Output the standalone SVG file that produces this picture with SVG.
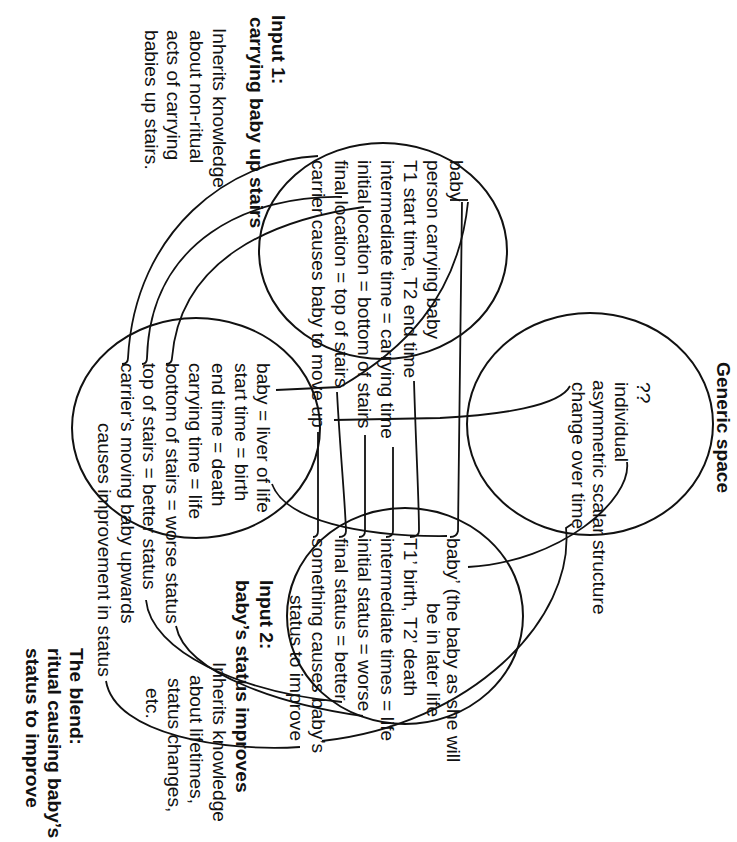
<svg xmlns="http://www.w3.org/2000/svg" width="737" height="842" viewBox="0 0 737 842">
<style>
text { font-family: "Liberation Sans", Arial, Helvetica, sans-serif; font-size: 19.2px; fill: #111; }
.b { font-weight: bold; }
.ring { fill: none; stroke: #111; stroke-width: 2; }
#connectors path { fill: none; stroke: #111; stroke-width: 1.8; }
</style>
<rect width="737" height="842" fill="#fff"/>

<g id="input1">
  <ellipse class="ring" cx="383" cy="251" rx="124" ry="108"/>
  <g transform="rotate(90)">
    <text class="b" x="15" y="-272">Input 1:</text>
    <text class="b" x="17" y="-250">carrying baby up stairs</text>
    <text x="28" y="-213">Inherits knowledge</text>
    <text x="30" y="-190">about non-ritual</text>
    <text x="30" y="-167">acts of carrying</text>
    <text x="30" y="-145">babies up stairs.</text>
    <text x="160" y="-450">baby</text>
    <text x="160" y="-427">person carrying baby</text>
    <text x="160" y="-404">T1 start time, T2 end time</text>
    <text x="160" y="-381">intermediate time = carrying time</text>
    <text x="160" y="-358">initial location = bottom of stairs</text>
    <text x="160" y="-335">final location = top of stairs</text>
    <text x="160" y="-312">carrier causes baby to move up</text>
  </g>
</g>

<g id="generic">
  <ellipse class="ring" cx="590" cy="424" rx="123" ry="111"/>
  <g transform="rotate(90)">
    <text class="b" x="362" y="-717">Generic space</text>
    <text x="382" y="-637">??</text>
    <text x="382" y="-615">individual</text>
    <text x="380" y="-593">asymmetric scalar structure</text>
    <text x="382" y="-572">change over time</text>
  </g>
</g>

<g id="blend">
  <ellipse class="ring" cx="196" cy="428" rx="124" ry="110"/>
  <g transform="rotate(90)">
    <text x="363" y="-257">baby = liver of life</text>
    <text x="363" y="-235">start time = birth</text>
    <text x="363" y="-212">end time = death</text>
    <text x="363" y="-189">carrying time = life</text>
    <text x="363" y="-166">bottom of stairs = worse status</text>
    <text x="363" y="-143">top of stairs = better status</text>
    <text x="363" y="-121">carrier’s moving baby upwards</text>
    <text x="423" y="-98">causes improvement in status</text>
    <text class="b" x="648" y="-70">The blend:</text>
    <text class="b" x="648" y="-48">ritual causing baby’s</text>
    <text class="b" x="648" y="-26">status to improve</text>
  </g>
</g>

<g id="input2">
  <ellipse class="ring" cx="405" cy="616" rx="118" ry="108"/>
  <g transform="rotate(90)">
    <text x="538" y="-447">baby’ (the baby as she will</text>
    <text x="603" y="-427">be in later life</text>
    <text x="538" y="-404">T1’ birth, T2’ death</text>
    <text x="538" y="-381">intermediate times = life</text>
    <text x="538" y="-358">initial status = worse</text>
    <text x="538" y="-335">final status = better</text>
    <text x="538" y="-312">something causes baby’s</text>
    <text x="595" y="-290">status to improve</text>
    <text class="b" x="580" y="-260">Input 2:</text>
    <text class="b" x="580" y="-236">baby’s status improves</text>
    <text x="662" y="-213">Inherits knowledge</text>
    <text x="675" y="-190">about lifetimes,</text>
    <text x="678" y="-168">status changes,</text>
    <text x="688" y="-146">etc.</text>
  </g>
</g>

<g id="connectors">
  <path d="M 450 200 L 468 200"/>
  <path d="M 462 202 L 458 531 Q 457 537 450 537"/>
  <path d="M 468 202 C 458 300, 400 352, 340 387 L 276 390"/>
  <path d="M 414 381 C 416 450, 419 500, 419 531 Q 419 537 410 537"/>
  <path d="M 393 447 L 393 531 Q 393 537 386 537"/>
  <path d="M 365 435 L 365 531 Q 365 537 359 537"/>
  <path d="M 337 392 C 340 450, 345 500, 346 531 Q 346 537 339 537"/>
  <path d="M 318 432 L 318 531 Q 318 537 313 537"/>
  <path d="M 570 386 C 560 406, 500 415, 440 418 L 334 420"/>
  <path d="M 627 462 C 632 500, 560 562, 468 567"/>
  <path d="M 572 524 L 566 528 C 575 620, 470 725, 322 741"/>
  <path d="M 318 156 C 230 160, 135 230, 128 358 Q 128 364 122 364"/>
  <path d="M 342 197 C 250 195, 150 240, 147 358 Q 147 364 142 364"/>
  <path d="M 364 207 C 270 220, 180 260, 172 358 Q 172 364 166 364"/>
  <path d="M 272 484 C 285 520, 360 537, 447 536"/>
  <path d="M 106 681 C 115 735, 225 752, 300 747"/>
  <path d="M 176 626 C 186 676, 290 706, 363 716"/>
  <path d="M 146 600 C 151 652, 240 692, 342 702"/>
</g>
</svg>
